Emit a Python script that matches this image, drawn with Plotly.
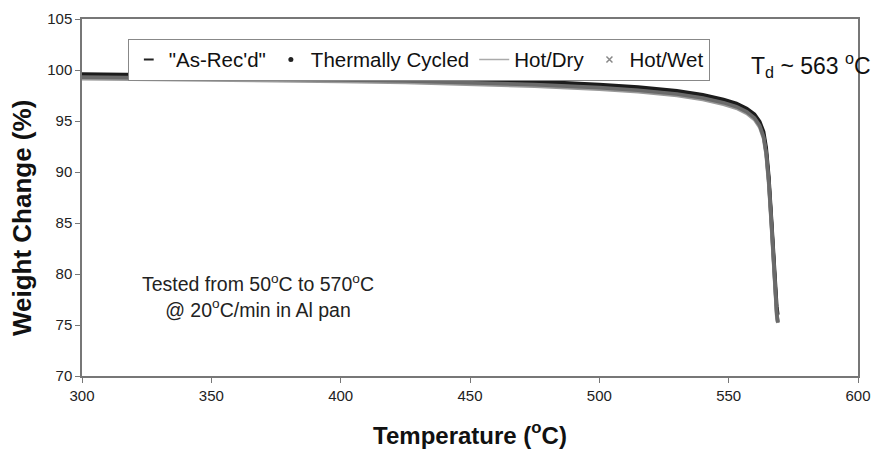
import plotly.graph_objects as go

# Temperature points (°C) shared by the TGA scans
temperature = [300, 325, 350, 375, 400, 425, 450, 475, 500, 515, 530, 540, 548,
               553, 557, 560, 562, 563.5, 564.5, 565.5, 566.5, 567.3, 568, 568.6, 569]

# Weight change (%) for each conditioning state
as_recd = [99.45, 99.4, 99.35, 99.28, 99.18, 99.07, 98.92, 98.72, 98.42, 98.17, 97.8,
           97.4, 96.95, 96.55, 96.05, 95.45, 94.7, 93.6, 92.0, 89.2, 85.2, 81.3, 78.2, 76.2, 75.3]
thermally_cycled = [99.6, 99.55, 99.5, 99.43, 99.33, 99.22, 99.08, 98.88, 98.58, 98.33, 97.97,
                    97.57, 97.12, 96.72, 96.22, 95.65, 94.95, 93.95, 92.4, 89.6, 85.6, 81.6, 78.6, 76.8, 76.0]
hot_dry = [99.15, 99.1, 99.05, 98.98, 98.88, 98.77, 98.62, 98.42, 98.12, 97.87, 97.5,
           97.1, 96.65, 96.25, 95.75, 95.15, 94.4, 93.3, 91.7, 88.8, 84.8, 80.9, 77.8, 75.8, 75.2]
hot_wet = [99.3, 99.25, 99.2, 99.13, 99.03, 98.92, 98.77, 98.57, 98.27, 98.02, 97.65,
           97.25, 96.8, 96.4, 95.9, 95.3, 94.55, 93.45, 91.85, 89.0, 85.0, 81.1, 78.0, 76.0, 75.25]

series = [
    ("\"As-Rec'd\"", as_recd, "#3a3a3a",
     dict(symbol="line-ew-open", size=7, color="#222", line=dict(width=2, color="#222"))),
    ("Thermally Cycled", thermally_cycled, "#1c1c1c",
     dict(symbol="circle", size=5, color="#222", line=dict(width=0))),
    ("Hot/Dry", hot_dry, "#9a9a9a", None),
    ("Hot/Wet", hot_wet, "#6a6a6a",
     dict(symbol="x-thin-open", size=6, color="#888", line=dict(width=1.5, color="#888"))),
]

FONT = "Liberation Sans, Arial, sans-serif"
fig = go.Figure()

# drawn curves (dense scans appear as thick bands)
for name, y, color, _ in series:
    fig.add_trace(go.Scatter(x=temperature, y=y, mode="lines", showlegend=False,
                             line=dict(color=color, width=3.6), hoverinfo="skip"))

# legend keys
for name, y, color, marker in series:
    if marker is None:
        fig.add_trace(go.Scatter(x=[None], y=[None], mode="lines", name=name,
                                 line=dict(color="#aaa", width=1.5)))
    else:
        fig.add_trace(go.Scatter(x=[None], y=[None], mode="markers", name=name, marker=marker))

axis_common = dict(showgrid=False, zeroline=False, showline=True, mirror=True,
                   linecolor="#777", linewidth=1.5, ticks="outside", ticklen=5,
                   tickcolor="#777", tickfont=dict(family=FONT, size=15, color="#222"),
                   automargin=False)

fig.update_xaxes(range=[300, 600], dtick=50, **axis_common,
                 title=dict(text="<b>Temperature (<sup>o</sup>C)</b>",
                            font=dict(family=FONT, size=24, color="#111"), standoff=24))
fig.update_yaxes(range=[70, 105], dtick=5, **axis_common)

# y-axis title placed as a rotated annotation
fig.add_annotation(xref="paper", yref="paper", x=-0.077, y=0.443, xanchor="center", yanchor="middle",
                   text="<b>Weight Change (%)</b>", textangle=-90, showarrow=False,
                   font=dict(family=FONT, size=26, color="#111"))

fig.add_annotation(xref="paper", yref="paper", x=0.860, y=0.871, xanchor="left", yanchor="middle",
                   text="T<sub>d</sub> ~ 563 <sup>o</sup>C", showarrow=False,
                   font=dict(family=FONT, size=23, color="#111"))
fig.add_annotation(xref="paper", yref="paper", x=0.227, y=0.224, xanchor="center", yanchor="middle",
                   text="Tested from 50<sup>o</sup>C to 570<sup>o</sup>C<br>@ 20<sup>o</sup>C/min in Al pan",
                   showarrow=False, align="center",
                   font=dict(family=FONT, size=19.5, color="#222"))

fig.update_layout(
    width=875, height=449,
    margin=dict(l=82, r=17, t=19, b=73, autoexpand=False),
    paper_bgcolor="white", plot_bgcolor="white",
    font=dict(family=FONT, color="#222"),
    legend=dict(orientation="h", x=0.059, y=0.945, xanchor="left", yanchor="top",
                bgcolor="white", bordercolor="#888", borderwidth=1,
                font=dict(family=FONT, size=20.5, color="#111"), itemwidth=30,
                tracegroupgap=0),
)

fig.write_html("out.html")
